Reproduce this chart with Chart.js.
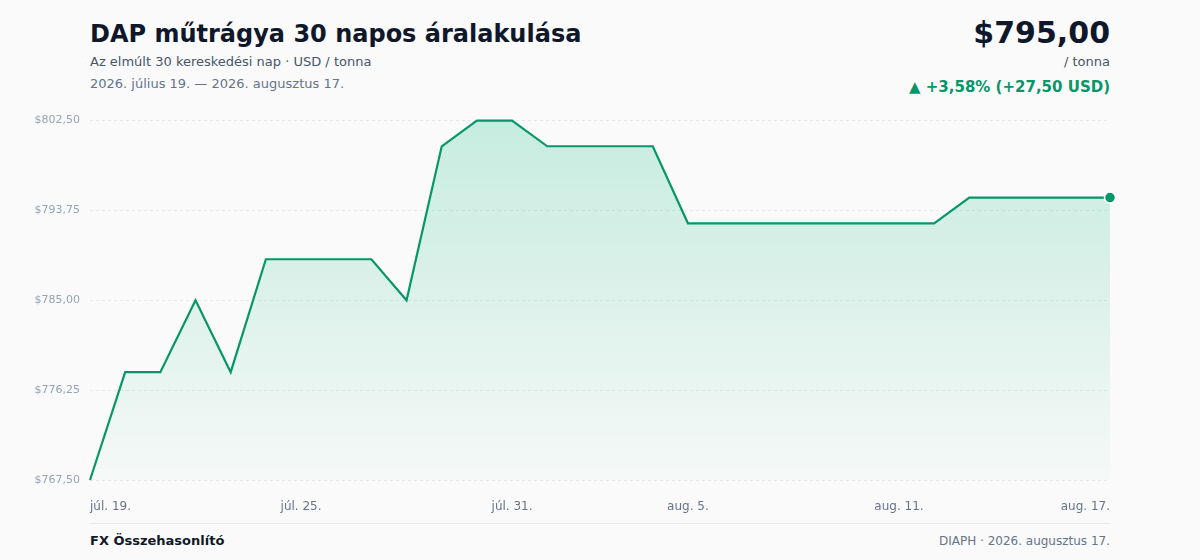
<!DOCTYPE html>
<html lang="hu">
<head>
<meta charset="utf-8">
<title>DAP műtrágya 30 napos áralakulása</title>
<script src="https://cdn.jsdelivr.net/npm/chart.js@4.4.1/dist/chart.umd.min.js"></script>
<style>
  html, body { margin: 0; padding: 0; }
  body {
    width: 1200px; height: 560px; position: relative; overflow: hidden;
    background: #fafafa; font-family: "DejaVu Sans", sans-serif;
  }
  .title { position: absolute; left: 90px; top: 20px; font-size: 24px; font-weight: bold; color: #0f172a; }
  .sub { position: absolute; left: 90px; top: 54px; font-size: 13px; color: #475569; }
  .range { position: absolute; left: 90px; top: 76px; font-size: 13px; color: #64748b; }
  .price { position: absolute; right: 90px; top: 15px; font-size: 30px; font-weight: bold; color: #0f172a; }
  .unit { position: absolute; right: 90px; top: 54px; font-size: 13px; color: #475569; }
  .change { position: absolute; right: 90px; top: 78px; font-size: 15px; font-weight: bold; color: #059669; }
  #wrap { position: absolute; left: 0; top: 104px; width: 1200px; height: 416px; }
  .rule { position: absolute; left: 90px; width: 1020px; top: 523px; height: 1px; background: #e8eaed; }
  .brand { position: absolute; left: 90px; top: 533px; font-size: 13px; font-weight: bold; color: #111827; }
  .source { position: absolute; right: 90px; top: 534px; font-size: 12px; color: #64748b; }
</style>
</head>
<body>
<div class="title">DAP műtrágya 30 napos áralakulása</div>
<div class="sub">Az elmúlt 30 kereskedési nap · USD / tonna</div>
<div class="range">2026. július 19. — 2026. augusztus 17.</div>
<div class="price">$795,00</div>
<div class="unit">/ tonna</div>
<div class="change">▲ +3,58% (+27,50 USD)</div>
<div id="wrap"><canvas id="priceChart"></canvas></div>
<div class="rule"></div>
<div class="brand">FX Összehasonlító</div>
<div class="source">DIAPH · 2026. augusztus 17.</div>

<script>
'use strict';

// data
const days = [
  'júl. 19.', 'júl. 20.', 'júl. 21.', 'júl. 22.', 'júl. 23.', 'júl. 24.',
  'júl. 25.', 'júl. 26.', 'júl. 27.', 'júl. 28.', 'júl. 29.', 'júl. 30.',
  'júl. 31.', 'aug. 1.', 'aug. 2.', 'aug. 3.', 'aug. 4.', 'aug. 5.',
  'aug. 6.', 'aug. 7.', 'aug. 8.', 'aug. 9.', 'aug. 10.', 'aug. 11.',
  'aug. 12.', 'aug. 13.', 'aug. 14.', 'aug. 15.', 'aug. 16.', 'aug. 17.'
];
const prices = [
  767.5, 778, 778, 785, 778, 789, 789, 789, 789, 785,
  800, 802.5, 802.5, 800, 800, 800, 800, 792.5, 792.5, 792.5,
  792.5, 792.5, 792.5, 792.5, 792.5, 795, 795, 795, 795, 795
];
const shownDays = [0, 6, 12, 17, 23, 29];
const yMin = 767.5;
const yMax = 802.5;
const yStep = 8.75;

function formatUsd(v) {
  return '$' + v.toFixed(2).replace('.', ',');
}

function fillGradient(context) {
  const area = context.chart.chartArea;
  if (!area) {
    return 'rgba(16,185,129,0.15)';
  }
  const g = context.chart.ctx.createLinearGradient(0, area.top, 0, area.bottom);
  g.addColorStop(0, 'rgba(16,185,129,0.22)');
  g.addColorStop(1, 'rgba(16,185,129,0.02)');
  return g;
}

const lastIndex = prices.length - 1;

new Chart(document.getElementById('priceChart'), {
  type: 'line',
  data: {
    labels: days,
    datasets: [{
      data: prices,
      borderColor: '#079669',
      borderWidth: 2.2,
      tension: 0,
      fill: 'start',
      backgroundColor: fillGradient,
      pointRadius: (ctx) => ctx.dataIndex === lastIndex ? 5.5 : 0,
      pointHoverRadius: 0,
      pointBackgroundColor: '#079669',
      pointBorderColor: '#ffffff',
      pointBorderWidth: 1.5,
      clip: false
    }]
  },
  options: {
    responsive: true,
    maintainAspectRatio: false,
    animation: false,
    layout: { padding: { left: 0, right: 90, top: 0, bottom: 0 } },
    plugins: {
      legend: { display: false },
      tooltip: { enabled: false }
    },
    scales: {
      x: {
        grid: { display: false },
        border: { display: false },
        afterFit: (scale) => { scale.height = 40; },
        ticks: {
          autoSkip: false,
          maxRotation: 0,
          align: 'inner',
          padding: 12,
          color: '#64748b',
          font: { family: 'DejaVu Sans', size: 12 },
          callback: function (value, index) {
            return shownDays.includes(index) ? days[index] : null;
          }
        }
      },
      y: {
        min: yMin,
        max: yMax,
        afterFit: (scale) => { scale.width = 90; },
        border: { display: false, dash: [3, 3] },
        grid: {
          color: '#e6e8eb',
          lineWidth: 1,
          drawTicks: false
        },
        ticks: {
          stepSize: yStep,
          padding: 10,
          color: '#94a3b8',
          font: { family: 'DejaVu Sans', size: 11 },
          callback: (v) => formatUsd(v)
        }
      }
    }
  }
});
</script>
</body>
</html>
